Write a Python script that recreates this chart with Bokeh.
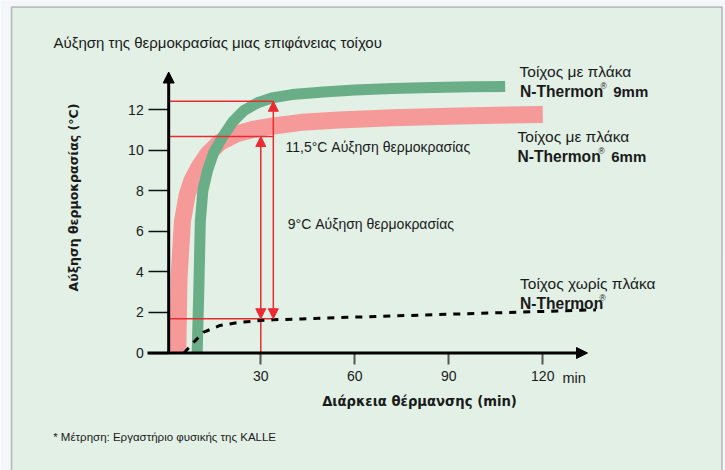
import math
from bokeh.plotting import figure
from bokeh.models import Range1d, FixedTicker, Label, Arrow, NormalHead, BoxAnnotation, ColumnDataSource
from bokeh.embed import file_html
from bokeh.resources import INLINE

# ---------------- data ----------------
t_9mm = [9.7, 10.2, 10.7, 11.5, 13, 15, 17.8, 21, 24.5, 29, 34, 40, 50, 60, 72, 85, 97, 108]
rise_9mm = [0, 3, 6.5, 8.0, 9.0, 9.9, 10.65, 11.4, 11.95, 12.35, 12.6, 12.75, 12.88, 12.97, 13.05, 13.1, 13.13, 13.15]

t_6mm = [3.5, 3.9, 5.0, 6.5, 8, 10, 13, 17, 22, 28, 34, 43, 55, 72, 90, 105, 120]
rise_6mm = [0, 3.7, 6.5, 7.8, 8.5, 9.1, 9.8, 10.4, 10.8, 11.05, 11.2, 11.38, 11.5, 11.6, 11.68, 11.73, 11.77]

t_none = [5.5, 8.6, 11.8, 17, 23.5, 30, 34, 43, 60, 81, 100, 120, 137]
rise_none = [0, 0.53, 1.03, 1.36, 1.52, 1.6, 1.64, 1.68, 1.77, 1.87, 1.96, 2.05, 2.13]

y_ticks = [0, 2, 4, 6, 8, 10, 12]
x_ticks = [30, 60, 90, 120]

# reference marks (levels and times of the red construction lines)
ref_levels = [12.42, 10.68, 1.69]
ref_time_9mm = 34
ref_time_6mm = 30

# ---------------- layout constants ----------------
W, H = 725, 470
X0_PX, X_PPU = 166.3, 3.133   # px of x=0, px per minute
Y0_PX, Y_PPU = 352.5, 20.27   # px of y=0, px per degree
AXIS_X = 0.6                  # y axis position (minutes)

def xd(px):
    return (px - X0_PX) / X_PPU

def yd(py):
    return (Y0_PX - py) / Y_PPU

BG = "#e2f0e6"
OUT = "#f4f6fa"
GREEN = "#6aae88"
PINK = "#f59a98"
RED = "#ec2a31"
INK = "#1a1a1a"
SANS = "Liberation Sans"
BOLD_AX = "DejaVu Sans"

p = figure(width=W, height=H,
           x_range=Range1d(xd(0), xd(W)), y_range=Range1d(yd(H), yd(0)),
           output_backend="svg", toolbar_location=None, min_border=0)
p.grid.visible = False
p.outline_line_color = None
p.background_fill_color = OUT
p.border_fill_color = OUT

# panel
p.add_layout(BoxAnnotation(left=xd(11), right=xd(721.5), top=yd(6.5), bottom=yd(490),
                           fill_color=BG, fill_alpha=1, line_color="#333333", line_width=1.5,
                           level="underlay"))

# axes at the origin
xa = p.xaxis[0]
ya = p.yaxis[0]
xa.fixed_location = 0
ya.fixed_location = AXIS_X
xa.ticker = FixedTicker(ticks=x_ticks)
ya.ticker = FixedTicker(ticks=y_ticks)
for ax in (xa, ya):
    ax.axis_line_color = None
    ax.minor_tick_line_color = None
    ax.major_tick_in = 0
    ax.major_label_text_font = SANS
    ax.major_label_text_font_size = "14px"
    ax.major_label_text_color = INK
xa.major_tick_out = 11
xa.major_tick_line_color = "#555555"
xa.major_tick_line_width = 2
xa.major_label_standoff = 7
ya.major_tick_out = 20
ya.major_tick_line_color = "#111111"
ya.major_tick_line_width = 1.5
ya.major_label_standoff = 5

# axis lines with arrow heads
p.add_layout(Arrow(x_start=xd(147), y_start=0, x_end=xd(587), y_end=0, line_width=3, line_color="black",
                   end=NormalHead(size=11, fill_color="black", line_color="black", line_width=1)))
p.add_layout(Arrow(x_start=AXIS_X, y_start=0, x_end=AXIS_X, y_end=yd(71.5), line_width=3, line_color="black",
                   end=NormalHead(size=11, fill_color="black", line_color="black", line_width=1)))

# curves
p.line(t_6mm, rise_6mm, line_color=PINK, line_width=17, line_cap="butt", line_join="round")
p.line(t_9mm, rise_9mm, line_color=GREEN, line_width=11, line_cap="butt", line_join="round")

# red construction lines
hsrc = ColumnDataSource(dict(x0=[AXIS_X] * 3, x1=[ref_time_9mm] * 3, y=ref_levels))
p.segment(x0="x0", y0="y", x1="x1", y1="y", source=hsrc, line_color=RED, line_width=1.5)
p.segment(x0=[ref_time_6mm], y0=[0], x1=[ref_time_6mm], y1=[ref_levels[2]], line_color=RED, line_width=1.5)
for t, top in ((ref_time_9mm, ref_levels[0]), (ref_time_6mm, ref_levels[1])):
    p.add_layout(Arrow(x_start=t, y_start=ref_levels[2], x_end=t, y_end=top, line_color=RED, line_width=1.5,
                       start=NormalHead(size=10, fill_color=RED, line_color=RED, line_width=1),
                       end=NormalHead(size=10, fill_color=RED, line_color=RED, line_width=1)))

# no-board curve (dashed)
p.line(t_none, rise_none, line_color="black", line_width=3, line_dash="7 7", line_cap="butt")

def lab(px, py, text, size="14px", style="normal", font=SANS, align="left", baseline="alphabetic", angle=0.0):
    p.add_layout(Label(x=xd(px), y=yd(py), text=text, text_font=font, text_font_size=size,
                       text_font_style=style, text_color=INK, text_align=align,
                       text_baseline=baseline, angle=angle))

lab(53, 41.5, "Αύξηση της θερμοκρασίας μιας επιφάνειας τοίχου", size="15px")

lab(519, 70.5, "Τοίχος με πλάκα", size="15.5px")
lab(519.5, 90.5, "N-Thermon", size="15.6px", style="bold")
lab(600, 85, "®", size="8.5px")
lab(612.7, 90.5, "9mm", size="15px", style="bold")

lab(517, 136, "Τοίχος με πλάκα", size="15.5px")
lab(517, 156, "N-Thermon", size="15.6px", style="bold")
lab(598, 150.5, "®", size="8.5px")
lab(610.7, 156, "6mm", size="15px", style="bold")

lab(519.5, 282.5, "Τοίχος χωρίς πλάκα", size="15.5px")
lab(519.5, 302.5, "N-Thermon", size="15.6px", style="bold")
lab(599, 297, "®", size="8.5px")

lab(285, 146.5, "11,5°C Αύξηση θερμοκρασίας", size="14px")
lab(287.3, 223, "9°C Αύξηση θερμοκρασίας", size="14px")

lab(562, 377.5, "min", size="14.5px")
lab(419, 401, "Διάρκεια θέρμανσης (min)", size="13.2px", style="bold", font=BOLD_AX, align="center")
lab(73, 197, "Αύξηση θερμοκρασίας (°C)", size="12.5px", style="bold", font=BOLD_AX, align="center",
    baseline="middle", angle=math.pi / 2)
lab(52.7, 436.5, "* Μέτρηση: Εργαστήριο φυσικής της KALLE", size="11.5px")

open("out.html", "w").write(file_html(p, INLINE))
